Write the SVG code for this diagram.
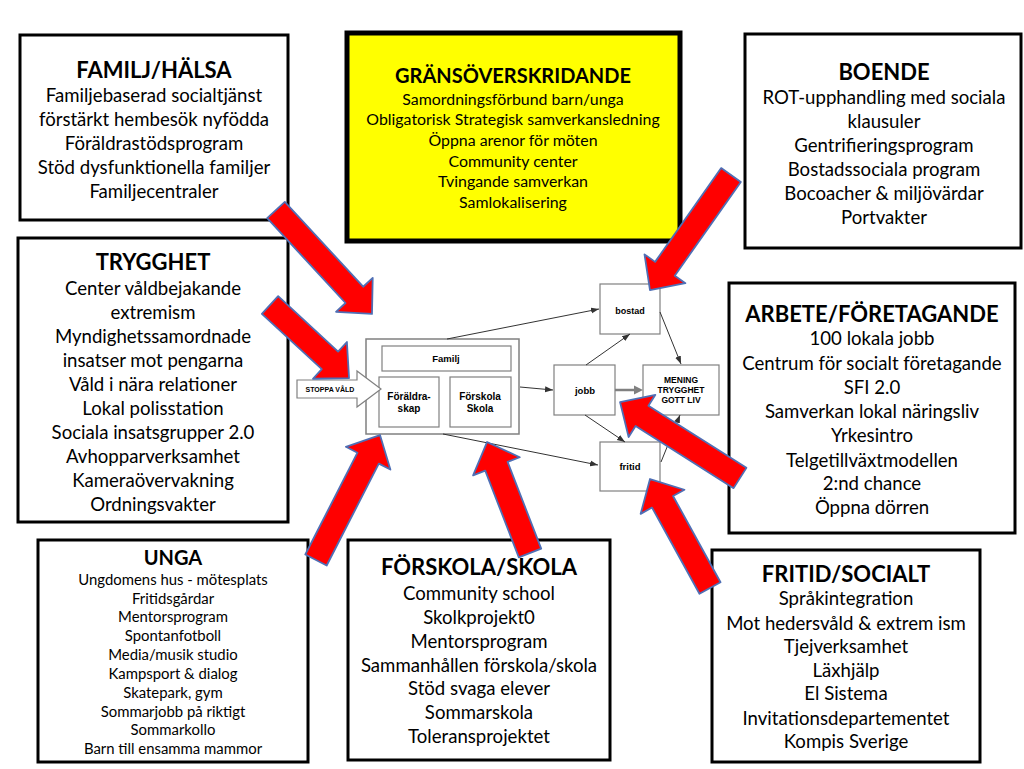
<svg xmlns="http://www.w3.org/2000/svg" width="1024" height="769" viewBox="0 0 1024 769">
<style>
.box{fill:#fff;stroke:#000;stroke-width:3}
.ybox{fill:#ffff00;stroke:#000;stroke-width:5}
.t{font-family:Lato,"Liberation Sans",sans-serif;text-anchor:middle;fill:#000}
.h{font-weight:bold;font-size:22px}
.b{font-size:18.6px}
.s{font-size:14.9px}
.g{font-size:15.9px}
.n{fill:#fff;stroke:#808080;stroke-width:1.2}
.l{font-family:"Liberation Sans",Arial,sans-serif;font-weight:bold;text-anchor:middle;fill:#000}
.c{stroke:#333;stroke-width:1;fill:none;marker-end:url(#ah)}
.ra{fill:#ff0000;stroke:#4f6fb5;stroke-width:1.8;stroke-linejoin:round}
</style>
<defs>
<marker id="ah" markerUnits="userSpaceOnUse" markerWidth="8" markerHeight="8" viewBox="0 0 8 8" refX="8" refY="4" orient="auto">
<path d="M0,1 L8,4 L0,7 z" fill="#333"/>
</marker>
</defs>
<rect width="1024" height="769" fill="#fff"/>

<g id="familj-halsa">
<rect class="box" x="20" y="35" width="268" height="185"/>
<text class="t h" x="154" y="78">FAMILJ/HÄLSA</text>
<text class="t b" x="154" y="102">Familjebaserad socialtjänst</text>
<text class="t b" x="154" y="126">förstärkt hembesök nyfödda</text>
<text class="t b" x="154" y="150">Föräldrastödsprogram</text>
<text class="t b" x="154" y="174">Stöd dysfunktionella familjer</text>
<text class="t b" x="154" y="198">Familjecentraler</text>
</g>

<g id="gransoverskridande">
<rect class="ybox" x="347" y="33" width="333" height="208"/>
<text class="t h" x="513" y="83" style="font-size:20px">GRÄNSÖVERSKRIDANDE</text>
<text class="t g" x="513" y="105">Samordningsförbund barn/unga</text>
<text class="t g" x="513" y="125">Obligatorisk Strategisk samverkansledning</text>
<text class="t g" x="513" y="146">Öppna arenor för möten</text>
<text class="t g" x="513" y="167">Community center</text>
<text class="t g" x="513" y="187">Tvingande samverkan</text>
<text class="t g" x="513" y="208">Samlokalisering</text>
</g>

<g id="boende">
<rect class="box" x="745" y="34" width="276" height="214"/>
<text class="t h" x="884" y="80">BOENDE</text>
<text class="t b" x="884" y="104">ROT-upphandling med sociala</text>
<text class="t b" x="884" y="128">klausuler</text>
<text class="t b" x="884" y="152">Gentrifieringsprogram</text>
<text class="t b" x="884" y="176">Bostadssociala program</text>
<text class="t b" x="884" y="200">Bocoacher &amp; miljövärdar</text>
<text class="t b" x="884" y="224">Portvakter</text>
</g>

<g id="trygghet">
<rect class="box" x="18" y="238" width="270" height="284"/>
<text class="t h" x="153" y="270">TRYGGHET</text>
<text class="t b" x="153" y="295">Center våldbejakande</text>
<text class="t b" x="153" y="319">extremism</text>
<text class="t b" x="153" y="343">Myndighetssamordnade</text>
<text class="t b" x="153" y="367">insatser mot pengarna</text>
<text class="t b" x="153" y="391">Våld i nära relationer</text>
<text class="t b" x="153" y="415">Lokal polisstation</text>
<text class="t b" x="153" y="439">Sociala insatsgrupper 2.0</text>
<text class="t b" x="153" y="463">Avhopparverksamhet</text>
<text class="t b" x="153" y="487">Kameraövervakning</text>
<text class="t b" x="153" y="511">Ordningsvakter</text>
</g>

<g id="arbete-foretagande">
<rect class="box" x="729" y="283" width="286" height="250"/>
<text class="t h" x="872" y="322">ARBETE/FÖRETAGANDE</text>
<text class="t b" x="872" y="345">100 lokala jobb</text>
<text class="t b" x="872" y="370">Centrum för socialt företagande</text>
<text class="t b" x="872" y="394">SFI 2.0</text>
<text class="t b" x="872" y="418">Samverkan lokal näringsliv</text>
<text class="t b" x="872" y="442">Yrkesintro</text>
<text class="t b" x="872" y="467">Telgetillväxtmodellen</text>
<text class="t b" x="872" y="490">2:nd chance</text>
<text class="t b" x="872" y="514">Öppna dörren</text>
</g>

<g id="unga">
<rect class="box" x="38" y="540" width="270" height="222"/>
<text class="t h" x="173" y="565" style="font-size:20px">UNGA</text>
<text class="t s" x="173" y="585">Ungdomens hus - mötesplats</text>
<text class="t s" x="173" y="604">Fritidsgårdar</text>
<text class="t s" x="173" y="622">Mentorsprogram</text>
<text class="t s" x="173" y="641">Spontanfotboll</text>
<text class="t s" x="173" y="660">Media/musik studio</text>
<text class="t s" x="173" y="679">Kampsport &amp; dialog</text>
<text class="t s" x="173" y="698">Skatepark, gym</text>
<text class="t s" x="173" y="717">Sommarjobb på riktigt</text>
<text class="t s" x="173" y="735">Sommarkollo</text>
<text class="t s" x="173" y="754">Barn till ensamma mammor</text>
</g>

<g id="forskola-skola">
<rect class="box" x="348" y="540" width="262" height="220"/>
<text class="t h" x="479" y="575">FÖRSKOLA/SKOLA</text>
<text class="t b" x="479" y="600">Community school</text>
<text class="t b" x="479" y="624">Skolkprojekt0</text>
<text class="t b" x="479" y="648">Mentorsprogram</text>
<text class="t b" x="479" y="672">Sammanhållen förskola/skola</text>
<text class="t b" x="479" y="695">Stöd svaga elever</text>
<text class="t b" x="479" y="719">Sommarskola</text>
<text class="t b" x="479" y="743">Toleransprojektet</text>
</g>

<g id="fritid-socialt">
<rect class="box" x="712" y="550" width="268" height="212"/>
<text class="t h" x="846" y="582">FRITID/SOCIALT</text>
<text class="t b" x="846" y="605">Språkintegration</text>
<text class="t b" x="846" y="630">Mot hedersvåld &amp; extrem ism</text>
<text class="t b" x="846" y="653">Tjejverksamhet</text>
<text class="t b" x="846" y="677">Läxhjälp</text>
<text class="t b" x="846" y="700">El Sistema</text>
<text class="t b" x="846" y="725">Invitationsdepartementet</text>
<text class="t b" x="846" y="748">Kompis Sverige</text>
</g>

<g id="karna">
<rect class="n" x="366" y="339" width="153" height="95" style="stroke-width:1.5"/>
<rect class="n" x="382" y="346" width="129" height="25"/>
<text class="l" x="446" y="362" font-size="9.5">Familj</text>
<rect class="n" x="379" y="377" width="60" height="50"/>
<text class="l" x="409" y="400" font-size="10">Föräldra-</text>
<text class="l" x="409" y="412" font-size="10">skap</text>
<rect class="n" x="450" y="377" width="61" height="50"/>
<text class="l" x="480" y="400" font-size="10">Förskola</text>
<text class="l" x="480" y="412" font-size="10">Skola</text>
</g>

<g id="stoppa-vald">
<polygon class="n" points="297,380 357,380 357,371 381,389 357,407 357,398 297,398"/>
<text class="l" x="330" y="392" font-size="7">STOPPA VÅLD</text>
</g>

<g id="bostad">
<rect class="n" x="600" y="284" width="60" height="50"/>
<text class="l" x="630" y="314" font-size="9">bostad</text>
</g>
<g id="jobb">
<rect class="n" x="554" y="365" width="61" height="50"/>
<text class="l" x="585" y="394" font-size="9.5">jobb</text>
</g>
<g id="fritid">
<rect class="n" x="600" y="442" width="60" height="49"/>
<text class="l" x="630" y="470" font-size="9.5">fritid</text>
</g>
<g id="mening">
<rect class="n" x="643" y="365" width="76" height="50"/>
<text class="l" x="681" y="383" font-size="8.5">MENING</text>
<text class="l" x="681" y="393" font-size="8.5">TRYGGHET</text>
<text class="l" x="681" y="403" font-size="8.5">GOTT LIV</text>
</g>

<g id="connectors">
<line class="c" x1="447" y1="339" x2="599" y2="309"/>
<line class="c" x1="520" y1="387" x2="553" y2="390"/>
<line class="c" x1="443" y1="434" x2="598" y2="465"/>
<line class="c" x1="586" y1="365" x2="630" y2="334"/>
<line class="c" x1="585" y1="415" x2="625" y2="442"/>
<line x1="615" y1="390" x2="636" y2="390" stroke="#808080" stroke-width="2.5"/>
<path d="M634,385.5 L643,390 L634,394.5 z" fill="#808080"/>
<line class="c" x1="660" y1="312" x2="681" y2="364"/>
<line class="c" x1="661" y1="462" x2="680" y2="415"/>
</g>

<g id="red-arrows">
<polygon class="ra" transform="translate(276,210) rotate(47.29)" points="0,-12 115.5,-12 115.5,-25 141.5,0 115.5,25 115.5,12 0,12"/>
<polygon class="ra" transform="translate(270,305) rotate(42.74)" points="0,-12 81.6,-12 81.6,-25 107.6,0 81.6,25 81.6,12 0,12"/>
<polygon class="ra" transform="translate(731,175) rotate(125.16)" points="0,-12 114.7,-12 114.7,-25 140.7,0 114.7,25 114.7,12 0,12"/>
<polygon class="ra" transform="translate(740,478) rotate(-147.65)" points="0,-12 116,-12 116,-25 142,0 116,25 116,12 0,12"/>
<polygon class="ra" transform="translate(316,560) rotate(-62.89)" points="0,-12 114.4,-12 114.4,-25 140.4,0 114.4,25 114.4,12 0,12"/>
<polygon class="ra" transform="translate(530,553) rotate(-111.17)" points="0,-12 93,-12 93,-25 119,0 93,25 93,12 0,12"/>
<polygon class="ra" transform="translate(710,588) rotate(-118.83)" points="0,-12 98.4,-12 98.4,-25 124.4,0 98.4,25 98.4,12 0,12"/>
</g>
</svg>
